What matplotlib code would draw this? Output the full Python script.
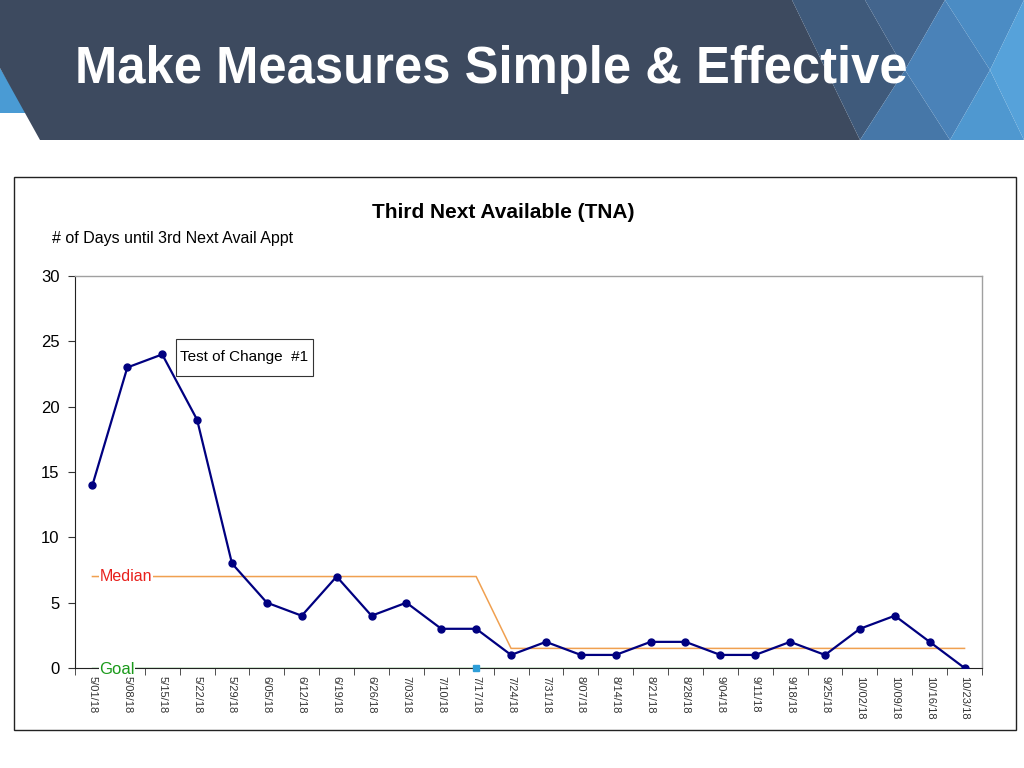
import matplotlib
matplotlib.use("Agg")
import matplotlib.pyplot as plt
from matplotlib.patches import Polygon, Rectangle
import numpy as np

plt.rcParams['font.family'] = ['Liberation Sans', 'DejaVu Sans']

dates = ["5/01/18", "5/08/18", "5/15/18", "5/22/18", "5/29/18", "6/05/18", "6/12/18",
         "6/19/18", "6/26/18", "7/03/18", "7/10/18", "7/17/18", "7/24/18", "7/31/18",
         "8/07/18", "8/14/18", "8/21/18", "8/28/18", "9/04/18", "9/11/18", "9/18/18",
         "9/25/18", "10/02/18", "10/09/18", "10/16/18", "10/23/18"]
tna = [14, 23, 24, 19, 8, 5, 4, 7, 4, 5, 3, 3, 1, 2, 1, 1, 2, 2, 1, 1, 2, 1, 3, 4, 2, 0]
median = [7, 7, 7, 7, 7, 7, 7, 7, 7, 7, 7, 7, 1.5, 1.5, 1.5, 1.5, 1.5, 1.5, 1.5, 1.5,
          1.5, 1.5, 1.5, 1.5, 1.5, 1.5]
goal_value = 0
change_marker_index = 11

W, H = 1024, 768
fig = plt.figure(figsize=(W / 100, H / 100), dpi=100)
fig.patch.set_facecolor("white")

# background / header layer in pixel coordinates
bg = fig.add_axes([0, 0, 1, 1], zorder=0)
bg.set_xlim(0, W)
bg.set_ylim(H, 0)
bg.axis("off")

# light blue triangle left
bg.add_patch(Polygon([(0, 68), (0, 113), (27, 113)], closed=True, color="#4a9bd4", lw=0))
# dark band
bg.add_patch(Polygon([(0, 0), (792, 0), (860, 140), (40, 140), (0, 68)], closed=True,
                     color="#3d4a5f", lw=0))
# right blue geometric pattern
tris = [
    ([(792, 0), (865, 0), (905, 70), (860, 140)], "#3f5a7b"),
    ([(865, 0), (945, 0), (905, 70)], "#43658d"),
    ([(905, 70), (860, 140), (950, 140)], "#4677a8"),
    ([(945, 0), (905, 70), (950, 140), (990, 70)], "#4a82b8"),
    ([(945, 0), (1024, 0), (990, 70)], "#4b8cc4"),
    ([(990, 70), (950, 140), (1024, 140)], "#4f98d0"),
    ([(990, 70), (1024, 0), (1024, 140)], "#56a2da"),
]
for pts, c in tris:
    bg.add_patch(Polygon(pts, closed=True, color=c, lw=0))

bg.text(75, 70, "Make Measures Simple & Effective", color="white", fontsize=36.5,
        fontweight="bold", ha="left", va="center")

# chart frame
bg.add_patch(Rectangle((14, 177), 1002, 553, fill=False, edgecolor="#222222", lw=1))

bg.text(503, 212, "Third Next Available (TNA)", fontsize=15, fontweight="bold",
        ha="center", va="center", color="black")
bg.text(52, 239, "# of Days until 3rd Next Avail Appt", fontsize=11.5, ha="left",
        va="center", color="black")

# annotation box
bg.add_patch(Rectangle((176, 339), 137, 37, facecolor="white", edgecolor="#333333", lw=0.8))
bg.text(244.5, 357.5, "Test of Change  #1", fontsize=11, ha="center", va="center",
        color="black")

# main chart
ax = fig.add_axes([75 / W, 1 - 668 / H, 907 / W, (668 - 276) / H], zorder=1)
ax.set_facecolor("none")
x = np.arange(len(dates))

ax.plot(x, median, color="#f0a050", lw=1.1, zorder=2)
ax.plot(x, [goal_value] * len(x), color="#2ca02c", lw=1.0, zorder=2)
ax.plot(x, tna, color="#000080", lw=1.6, marker="o", markersize=5, zorder=3)
ax.plot([change_marker_index], [goal_value], marker="s", color="#2e9ed8",
        markersize=5, zorder=4, clip_on=False)

ax.text(0.2, median[0], "Median", color="#e8201c", fontsize=11.5, ha="left",
        va="center", zorder=3, bbox=dict(facecolor="white", edgecolor="none", pad=0.5))
ax.text(0.2, goal_value - 0.1, "Goal", color="#1a9a1a", fontsize=12, ha="left",
        va="center", zorder=5, bbox=dict(facecolor="white", edgecolor="none", pad=0.2))

ax.set_xlim(-0.5, len(dates) - 0.5)
ax.set_ylim(0, 30)
ax.set_yticks([0, 5, 10, 15, 20, 25, 30])
ax.set_yticklabels(["0", "5", "10", "15", "20", "25", "30"], fontsize=12)
ax.set_xticks(x)
ax.set_xticklabels(dates, rotation=-90, fontsize=8, color="#333333", va="top")
ax.set_xticks(np.arange(-0.5, len(dates) + 0.5, 1), minor=True)
ax.tick_params(axis="x", which="major", length=0, pad=6)
ax.tick_params(axis="x", which="minor", length=5, direction="out", color="#333333")
ax.tick_params(axis="y", length=5, direction="out", pad=6, color="#333333")

for s in ["top", "right"]:
    ax.spines[s].set_color("#a0a0a0")
    ax.spines[s].set_linewidth(1)
ax.spines["left"].set_color("#222222")
ax.spines["bottom"].set_color("#222222")

fig.savefig("out.png", dpi=100)
